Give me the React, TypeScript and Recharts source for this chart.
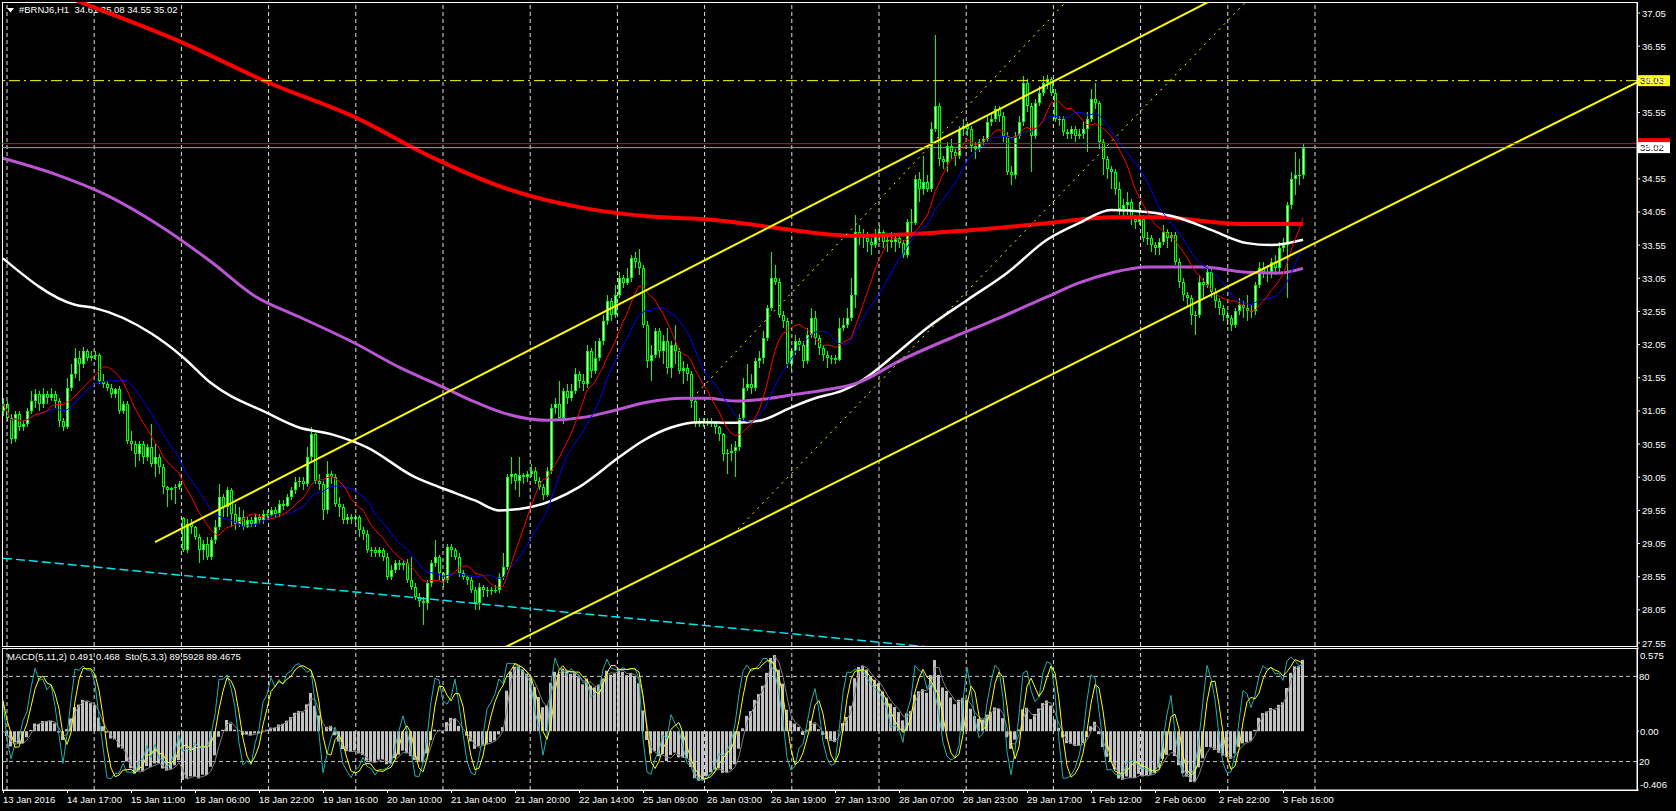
import React from "react";
import { ComposedChart, Bar, Line, XAxis, YAxis, ReferenceLine } from "recharts";

// #BRNJ6 H1 bars (bar index 0 = 13 Jan 2016)
const opens = [
  31.05, 31.15, 30.95, 30.62, 31.0, 30.8, 30.85, 31.05, 31.2, 31.3,
  31.15, 31.3, 31.25, 31.3, 31.2, 30.9, 30.8, 31.4, 31.6, 31.85,
  31.75, 31.95, 31.85, 31.88, 31.9, 31.5, 31.45, 31.4, 31.3, 31.38,
  31.05, 31.15, 30.6, 30.55, 30.4, 30.55, 30.35, 30.5, 30.25, 30.35,
  30.2, 29.9, 29.85, 29.88, 29.9, 29.43, 28.95, 29.35, 29.3, 29.15,
  28.95, 29.05, 28.85, 29.1, 29.3, 29.75, 29.6, 29.85, 29.5, 29.35,
  29.45, 29.3, 29.4, 29.35, 29.45, 29.4, 29.5, 29.48, 29.55, 29.5,
  29.65, 29.62, 29.75, 29.85, 29.98, 30.0, 29.95, 30.35, 30.7, 30.0,
  29.95, 29.55, 30.1, 30.05, 29.65, 29.6, 29.4, 29.45, 29.42, 29.45,
  29.25, 29.2, 28.95, 28.95, 28.9, 28.95, 28.85, 28.55, 28.65, 28.75,
  28.72, 28.75, 28.5, 28.4, 28.25, 28.18, 28.15, 28.45, 28.75, 28.85,
  28.6, 28.5, 29.0, 28.95, 28.85, 28.6, 28.55, 28.5, 28.35, 28.15,
  28.4, 28.35, 28.33, 28.35, 28.35, 28.55, 28.7, 30.05, 30.1, 30.0,
  30.08, 30.05, 30.1, 30.15, 30.0, 29.9, 29.78, 30.15, 31.1, 31.15,
  30.95, 31.35, 31.25, 31.35, 31.6, 31.5, 31.45, 31.95, 31.65, 31.85,
  32.1, 32.4, 32.7, 32.5, 32.8, 33.05, 32.98, 33.05, 33.35, 33.3,
  33.2, 32.35, 31.8, 31.9, 32.25, 31.95, 32.1, 31.7, 32.05, 31.95,
  31.65, 31.7, 31.6, 31.2, 30.85, 30.9, 30.88, 30.9, 30.87, 30.8,
  30.7, 30.4, 30.42, 30.45, 30.5, 30.95, 31.4, 31.45, 31.4, 31.8,
  31.85, 32.15, 32.6, 33.05, 33.0, 32.5, 32.4, 31.75, 31.95, 32.1,
  32.05, 31.8, 32.2, 32.45, 32.15, 32.0, 31.9, 31.85, 31.85, 31.82,
  32.3, 32.35, 32.45, 32.8, 33.75, 33.7, 33.65, 33.6, 33.55, 33.7,
  33.75, 33.6, 33.62, 33.6, 33.65, 33.58, 33.4, 33.9, 33.88, 34.55,
  34.4, 34.5, 34.4, 35.3, 35.65, 34.85, 34.8, 35.05, 34.95, 34.9,
  35.3, 35.35, 35.3, 35.05, 35.0, 35.1, 35.15, 35.4, 35.45, 35.6,
  35.5, 35.2, 34.65, 34.6, 35.2, 35.4, 36.0, 35.65, 35.2, 35.7,
  35.85, 36.0, 36.05, 35.85, 35.45, 35.45, 35.25, 35.22, 35.3, 35.2,
  35.22, 35.3, 35.45, 35.75, 35.7, 35.1, 34.85, 34.7, 34.65, 34.4,
  34.1, 34.15, 34.2, 33.95, 33.9, 33.95, 33.65, 33.65, 33.55, 33.5,
  33.6, 33.75, 33.65, 33.7, 33.3, 33.0, 32.8, 32.75, 32.5, 32.5,
  33.0, 32.95, 33.15, 32.85, 32.7, 32.6, 32.5, 32.45, 32.35, 32.55,
  32.65, 32.6, 32.55, 32.55, 32.95, 33.2, 33.15, 33.15, 33.3, 33.2,
  33.5, 33.55, 34.15, 34.55, 34.6, 34.61,
];
const highs = [
  31.25, 31.2, 31.0, 31.05, 31.05, 30.92, 31.1, 31.35, 31.38, 31.35,
  31.4, 31.35, 31.4, 31.35, 31.25, 30.95, 31.55, 31.75, 32.0, 31.95,
  32.02, 31.98, 31.95, 31.95, 31.92, 31.6, 31.5, 31.45, 31.4, 31.42,
  31.2, 31.2, 30.75, 30.6, 30.6, 30.6, 30.55, 30.85, 30.55, 30.4,
  30.25, 29.92, 29.9, 29.95, 30.0, 29.45, 29.42, 29.42, 29.32, 29.2,
  29.1, 29.15, 29.15, 29.4, 29.95, 29.8, 29.9, 29.88, 29.65, 29.6,
  29.55, 29.45, 29.45, 29.5, 29.5, 29.55, 29.55, 29.6, 29.6, 29.7,
  29.7, 29.8, 29.9, 30.05, 30.05, 30.05, 30.5, 30.8, 30.72, 30.1,
  30.0, 30.3, 30.15, 30.1, 29.75, 29.65, 29.5, 29.5, 29.5, 29.48,
  29.3, 29.25, 29.0, 29.0, 29.0, 28.98, 28.9, 28.72, 28.8, 28.8,
  28.8, 28.82, 28.85, 28.45, 28.3, 28.25, 28.5, 28.8, 29.1, 28.88,
  28.62, 29.05, 29.05, 28.98, 28.9, 28.65, 28.58, 28.55, 28.4, 28.45,
  28.42, 28.4, 28.4, 28.42, 28.6, 28.9, 30.1, 30.35, 30.12, 30.35,
  30.12, 30.15, 30.25, 30.2, 30.05, 29.95, 30.2, 31.15, 31.25, 31.5,
  31.4, 31.45, 31.45, 31.7, 31.65, 31.6, 32.05, 32.0, 32.1, 32.15,
  32.5, 32.8, 32.75, 32.95, 33.15, 33.1, 33.2, 33.4, 33.45, 33.49,
  33.25, 32.4, 32.05, 32.3, 32.3, 32.2, 32.3, 32.1, 32.35, 32.0,
  31.8, 31.75, 31.65, 31.25, 30.95, 30.95, 30.95, 30.95, 30.9, 30.82,
  30.72, 30.48, 30.55, 30.6, 31.0, 31.55, 31.75, 31.6, 31.85, 31.95,
  32.25, 32.65, 33.45, 33.25, 33.05, 32.55, 32.45, 32.0, 32.2, 32.15,
  32.1, 32.3, 32.6, 32.55, 32.2, 32.05, 31.95, 31.9, 31.9, 32.45,
  32.45, 32.6, 33.05, 34.0, 33.85, 33.8, 33.75, 33.65, 33.8, 33.85,
  33.78, 33.7, 33.75, 33.7, 33.7, 33.62, 33.95, 34.1, 34.6, 34.65,
  34.9, 34.6, 35.4, 36.72, 35.7, 34.9, 35.1, 35.15, 35.0, 35.35,
  35.45, 35.4, 35.35, 35.1, 35.15, 35.2, 35.5, 35.55, 35.65, 35.65,
  35.55, 35.25, 34.75, 35.25, 35.5, 36.1, 36.05, 35.7, 35.75, 35.95,
  36.1, 36.12, 36.08, 35.9, 35.5, 35.5, 35.3, 35.35, 35.35, 35.3,
  35.4, 35.55, 35.9, 36.0, 35.72, 35.15, 34.9, 34.75, 34.7, 34.5,
  34.25, 34.35, 34.25, 34.0, 34.2, 34.0, 33.75, 33.7, 33.6, 33.65,
  33.85, 33.8, 33.75, 33.75, 33.35, 33.05, 32.85, 32.8, 32.55, 33.1,
  33.05, 33.25, 33.2, 32.9, 32.75, 32.65, 32.55, 32.5, 32.6, 32.75,
  32.7, 32.8, 32.65, 33.0, 33.3, 33.3, 33.25, 33.35, 33.4, 33.6,
  33.65, 34.2, 34.65, 34.95, 34.85, 35.08,
];
const lows = [
  30.98, 30.9, 30.55, 30.58, 30.75, 30.75, 30.8, 31.0, 31.1, 31.05,
  31.1, 31.15, 31.2, 31.1, 30.8, 30.75, 30.78, 31.35, 31.55, 31.5,
  31.7, 31.8, 31.8, 31.82, 31.45, 31.4, 31.35, 31.25, 31.25, 31.0,
  31.0, 30.55, 30.45, 30.2, 30.3, 30.25, 30.3, 30.2, 30.05, 30.1,
  29.8, 29.6, 29.7, 29.65, 29.85, 28.92, 28.9, 29.2, 29.1, 28.75,
  28.8, 28.8, 28.8, 29.05, 29.25, 29.45, 29.45, 29.3, 29.25, 29.3,
  29.25, 29.28, 29.3, 29.3, 29.35, 29.35, 29.4, 29.45, 29.45, 29.45,
  29.55, 29.6, 29.7, 29.8, 29.9, 29.85, 29.9, 30.3, 29.95, 29.85,
  29.4, 29.5, 29.95, 29.6, 29.45, 29.35, 29.35, 29.35, 29.35, 29.15,
  29.1, 28.9, 28.85, 28.85, 28.85, 28.78, 28.5, 28.5, 28.6, 28.65,
  28.65, 28.45, 28.35, 28.2, 28.1, 27.82, 28.05, 28.4, 28.7, 28.5,
  28.4, 28.45, 28.85, 28.8, 28.55, 28.5, 28.42, 28.3, 28.05, 28.05,
  28.25, 28.25, 28.28, 28.3, 28.3, 28.5, 28.65, 29.95, 29.85, 29.75,
  29.95, 29.98, 30.05, 29.95, 29.85, 29.7, 29.75, 30.1, 31.0, 30.9,
  30.85, 31.15, 31.2, 31.3, 31.4, 31.35, 31.4, 31.55, 31.6, 31.8,
  32.05, 32.35, 32.4, 32.45, 32.75, 32.9, 32.95, 33.0, 33.2, 33.1,
  32.3, 31.7, 31.5, 31.85, 31.85, 31.75, 31.6, 31.55, 31.75, 31.6,
  31.45, 31.5, 31.1, 30.8, 30.8, 30.8, 30.82, 30.8, 30.7, 30.6,
  30.3, 30.1, 30.3, 30.05, 30.45, 30.9, 31.35, 31.3, 31.35, 31.7,
  31.75, 32.1, 32.55, 32.95, 32.45, 32.3, 31.7, 31.65, 31.9, 31.95,
  31.7, 31.75, 32.15, 32.05, 31.9, 31.8, 31.7, 31.75, 31.75, 31.8,
  32.25, 32.3, 32.4, 32.6, 33.55, 33.5, 33.45, 33.4, 33.5, 33.6,
  33.5, 33.45, 33.5, 33.45, 33.5, 33.35, 33.35, 33.75, 33.85, 34.2,
  34.3, 34.35, 34.35, 35.25, 34.75, 34.7, 34.65, 34.85, 34.75, 34.85,
  35.2, 35.2, 34.95, 34.85, 34.95, 35.05, 35.1, 35.35, 35.4, 35.4,
  35.1, 34.6, 34.45, 34.55, 35.15, 35.35, 35.55, 34.65, 35.15, 35.65,
  35.8, 35.9, 35.8, 35.4, 35.35, 35.2, 35.15, 35.15, 35.1, 35.15,
  35.15, 34.95, 35.4, 35.6, 35.0, 34.6, 34.55, 34.4, 34.3, 34.0,
  33.95, 34.0, 33.85, 33.8, 33.85, 33.6, 33.55, 33.45, 33.4, 33.4,
  33.55, 33.5, 33.6, 33.25, 32.9, 32.7, 32.6, 32.35, 32.2, 32.45,
  32.75, 32.9, 32.75, 32.6, 32.5, 32.4, 32.35, 32.25, 32.3, 32.5,
  32.45, 32.4, 32.45, 32.5, 32.9, 33.05, 33.0, 33.05, 33.1, 33.15,
  33.45, 32.75, 34.1, 34.3, 34.45, 34.55,
];
const closes = [
  31.15, 30.95, 30.62, 31.0, 30.8, 30.85, 31.05, 31.2, 31.3, 31.15,
  31.3, 31.25, 31.3, 31.2, 30.9, 30.8, 31.4, 31.6, 31.85, 31.75,
  31.95, 31.85, 31.88, 31.9, 31.5, 31.45, 31.4, 31.3, 31.38, 31.05,
  31.15, 30.6, 30.55, 30.4, 30.55, 30.35, 30.5, 30.25, 30.35, 30.2,
  29.9, 29.85, 29.88, 29.9, 29.95, 28.95, 29.35, 29.3, 29.15, 28.95,
  29.05, 28.85, 29.1, 29.3, 29.75, 29.6, 29.85, 29.5, 29.35, 29.45,
  29.3, 29.4, 29.35, 29.45, 29.4, 29.5, 29.48, 29.55, 29.5, 29.65,
  29.62, 29.75, 29.85, 29.98, 30.0, 29.95, 30.35, 30.7, 30.0, 29.95,
  29.55, 30.1, 30.05, 29.65, 29.6, 29.4, 29.45, 29.42, 29.45, 29.25,
  29.2, 28.95, 28.95, 28.9, 28.95, 28.85, 28.55, 28.65, 28.75, 28.72,
  28.75, 28.5, 28.4, 28.25, 28.18, 28.15, 28.45, 28.75, 28.85, 28.6,
  28.5, 29.0, 28.95, 28.85, 28.6, 28.55, 28.5, 28.35, 28.15, 28.4,
  28.35, 28.33, 28.35, 28.35, 28.55, 28.7, 30.05, 30.1, 30.0, 30.08,
  30.05, 30.1, 30.15, 30.0, 29.9, 29.78, 30.15, 31.1, 31.15, 30.95,
  31.35, 31.25, 31.35, 31.6, 31.5, 31.45, 31.95, 31.65, 31.85, 32.1,
  32.4, 32.7, 32.5, 32.8, 33.05, 32.98, 33.05, 33.35, 33.3, 33.2,
  32.35, 31.8, 31.9, 32.25, 31.95, 32.1, 31.7, 32.05, 31.95, 31.65,
  31.7, 31.6, 31.2, 30.85, 30.9, 30.88, 30.9, 30.87, 30.8, 30.7,
  30.4, 30.42, 30.45, 30.5, 30.95, 31.4, 31.45, 31.4, 31.8, 31.85,
  32.15, 32.6, 33.05, 33.0, 32.5, 32.4, 31.75, 31.95, 32.1, 32.05,
  31.8, 32.2, 32.45, 32.15, 32.0, 31.9, 31.85, 31.85, 31.82, 32.3,
  32.35, 32.45, 32.8, 33.75, 33.7, 33.65, 33.6, 33.55, 33.7, 33.75,
  33.6, 33.62, 33.6, 33.65, 33.58, 33.4, 33.9, 33.88, 34.55, 34.4,
  34.5, 34.4, 35.3, 35.65, 34.85, 34.8, 35.05, 34.95, 34.9, 35.3,
  35.35, 35.3, 35.05, 35.0, 35.1, 35.15, 35.4, 35.45, 35.6, 35.5,
  35.2, 34.65, 34.6, 35.2, 35.4, 36.0, 35.65, 35.2, 35.7, 35.85,
  36.0, 36.05, 35.85, 35.45, 35.45, 35.25, 35.22, 35.3, 35.2, 35.22,
  35.3, 35.45, 35.75, 35.7, 35.1, 34.85, 34.7, 34.65, 34.4, 34.1,
  34.15, 34.2, 33.95, 33.9, 33.95, 33.65, 33.65, 33.55, 33.5, 33.6,
  33.75, 33.65, 33.7, 33.3, 33.0, 32.8, 32.75, 32.5, 32.5, 33.0,
  32.95, 33.15, 32.85, 32.7, 32.6, 32.5, 32.45, 32.35, 32.55, 32.65,
  32.6, 32.55, 32.55, 32.95, 33.2, 33.15, 33.15, 33.3, 33.2, 33.5,
  33.55, 34.15, 34.55, 34.6, 34.61, 35.02,
];

// long moving averages as [bar, price]
const maWhite = [
  [0, 33.35], [18, 32.65], [23, 32.6], [37, 32.22], [45, 31.86], [52, 31.47], [66, 31.02],
  [74, 30.8], [82, 30.7], [91, 30.5], [103, 30.05], [110, 29.88], [118, 29.7], [124, 29.55],
  [132, 29.6], [144, 29.9], [154, 30.35], [160, 30.6], [167, 30.8], [174, 30.88], [183, 30.87],
  [189, 30.9], [197, 31.1], [203, 31.24], [210, 31.36], [214, 31.48], [224, 31.95], [231, 32.3],
  [241, 32.72], [251, 33.13], [261, 33.63], [269, 33.88], [277, 34.08], [286, 34.05],
  [294, 33.96], [302, 33.78], [311, 33.58], [317, 33.55], [325, 33.63],
];
const maPurple = [
  [0, 34.86], [13, 34.62], [26, 34.3], [39, 33.85], [52, 33.3], [63, 32.78], [74, 32.47],
  [88, 32.07], [99, 31.71], [110, 31.41], [117, 31.21], [125, 31.02], [136, 30.91], [146, 30.96],
  [153, 31.06], [161, 31.18], [170, 31.24], [176, 31.24], [183, 31.2], [189, 31.22], [197, 31.29],
  [205, 31.36], [214, 31.48], [224, 31.8], [239, 32.2], [249, 32.45], [261, 32.77], [269, 32.98],
  [277, 33.13], [286, 33.22], [300, 33.22], [311, 33.14], [319, 33.13], [325, 33.2],
];
const maRedSlow = [
  [0, 37.7], [18, 37.25], [45, 36.6], [66, 36.01], [89, 35.45], [106, 34.91], [125, 34.42],
  [146, 34.1], [162, 33.98], [178, 33.93], [192, 33.82], [213, 33.69], [231, 33.73], [247, 33.8],
  [264, 33.9], [277, 33.97], [290, 33.97], [302, 33.9], [311, 33.87], [325, 33.87],
];

// drawn objects: {bar, price} end points
const upperChannel = [{ x: 38, y: 29.07 }, { x: 305, y: 37.33 }];
const lowerChannel = [{ x: 124, y: 27.44 }, { x: 409, y: 36.02 }];
const dotLineA = [{ x: 173.5, y: 31.32 }, { x: 267, y: 37.3 }];
const dotLineB = [{ x: 183.75, y: 29.27 }, { x: 312, y: 37.3 }];
const cyanLine = [{ x: 0, y: 28.83 }, { x: 235, y: 27.47 }];
const levelPrice = 36.03;
const askPrice = 35.08;
const bidPrice = 35.02;

const priceTicks = [37.05, 36.55, 36.05, 35.55, 35.05, 34.55, 34.05, 33.55, 33.05, 32.55,
  32.05, 31.55, 31.05, 30.55, 30.05, 29.55, 29.05, 28.55, 28.05, 27.55];
const macdTicks = [0.575, 0, -0.406];
const timeLabels = ["13 Jan 2016", "14 Jan 17:00", "15 Jan 11:00", "18 Jan 06:00", "18 Jan 22:00",
  "19 Jan 16:00", "20 Jan 10:00", "21 Jan 04:00", "21 Jan 20:00", "22 Jan 14:00", "25 Jan 09:00",
  "26 Jan 03:00", "26 Jan 19:00", "27 Jan 13:00", "28 Jan 07:00", "28 Jan 23:00", "29 Jan 17:00",
  "1 Feb 12:00", "2 Feb 06:00", "2 Feb 22:00", "3 Feb 16:00"];

const FONT = "'Liberation Sans', Arial, sans-serif";
const W = 1676;
const AXIS_W = 39;
const X_DOMAIN: [number, number] = [-0.25, 408.5];
const BARS_PER_LABEL = 16;
const tickBars = timeLabels.map((_, k) => k * BARS_PER_LABEL);
const gridBars = Array.from({ length: 16 }, (_, k) => 1 + k * 21.8);

function sma(src: number[], n: number) {
  return src.map((_, i) => {
    const from = Math.max(0, i - n + 1);
    let s = 0;
    for (let j = from; j <= i; j++) s += src[j];
    return s / (i - from + 1);
  });
}
function ema(src: number[], n: number) {
  const a = 2 / (n + 1);
  const out: number[] = [];
  src.forEach((v, i) => out.push(i === 0 ? v : a * v + (1 - a) * out[i - 1]));
  return out;
}

// indicators as MT4 computes them
const fastMa = sma(closes, 10);
const slowMa = sma(closes, 16);
const ema5 = ema(closes, 5);
const ema11 = ema(closes, 11);
const macdMain = closes.map((_, i) => ema5[i] - ema11[i]);
const macdSignal = sma(macdMain, 2);
const stoMain = closes.map((_, i) => {
  let num = 0;
  let den = 0;
  for (let k = 0; k < 3; k++) {
    const j = i - k;
    if (j < 0) break;
    const from = Math.max(0, j - 4);
    const hh = Math.max(...highs.slice(from, j + 1));
    const ll = Math.min(...lows.slice(from, j + 1));
    num += closes[j] - ll;
    den += hh - ll;
  }
  return den > 0 ? (100 * num) / den : 50;
});
const stoSignal = sma(stoMain, 3);

const candles = closes.map((c, i) => ({
  i, o: opens[i], h: highs[i], l: lows[i], c,
  range: [lows[i], highs[i]], fast: fastMa[i], slow: slowMa[i],
}));
const osc = closes.map((_, i) => ({ i, macd: macdMain[i], sig: macdSignal[i], k: stoMain[i], d: stoSignal[i] }));
const toPts = (arr: number[][]) => arr.map(([i, v]) => ({ i, v }));

const Candle = (props: any) => {
  const { x, y, width, height, payload } = props;
  if (x == null || !payload) return null;
  const { o, h, l, c } = payload;
  const top = Math.min(y, y + height);
  const span = Math.abs(height);
  const cx = Math.round(x + width / 2);
  const py = (v: number) => top + ((h - v) / (h - l || 1)) * span;
  const bTop = Math.round(py(Math.max(o, c)));
  const bBot = Math.round(py(Math.min(o, c)));
  const bh = Math.max(1, bBot - bTop);
  return (
    <g shapeRendering="crispEdges">
      <line x1={cx + 0.5} x2={cx + 0.5} y1={top} y2={top + span} stroke="#00ff00" />
      <rect x={cx - 1} y={bTop} width={3} height={bh} fill="#00ff00" />
      {bh > 2 && <rect x={cx} y={bTop + 1} width={1} height={bh - 2} fill={c >= o ? "#ffffff" : "#000000"} />}
    </g>
  );
};

const PriceTick = (props: any) => {
  const { x, y, payload } = props;
  return (
    <text x={x} y={y} dy={3.5} textAnchor="start" fill="#ffffff" fontSize={9.5} fontFamily={FONT}>
      {Number(payload.value).toFixed(2)}
    </text>
  );
};

const MacdTick = (props: any) => {
  const { x, y, payload } = props;
  const v = Number(payload.value);
  const txt = v === 0 ? "0.00" : v.toFixed(3);
  const dy = v > 0.5 ? 11 : v < -0.3 ? -2.5 : 3.5;
  return (
    <text x={x} y={y} dy={dy} textAnchor="start" fill="#ffffff" fontSize={9.5} fontFamily={FONT}>
      {txt}
    </text>
  );
};

const TimeTick = (props: any) => {
  const { x, y, payload } = props;
  const label = timeLabels[Math.round(payload.value / BARS_PER_LABEL)];
  return (
    <g>
      <line x1={x + 0.5} x2={x + 0.5} y1={y} y2={y + 3} stroke="#ffffff" />
      <text x={x} y={y + 13} textAnchor="start" fill="#ffffff" fontSize={9.5} fontFamily={FONT}>
        {label}
      </text>
    </g>
  );
};

// price tag on the right scale; the ask tag sits under the bid tag, so it carries no text
const PriceTag = (props: any) => {
  const { viewBox, bg, color, text } = props;
  if (!viewBox) return null;
  const x = viewBox.x + viewBox.width + 1;
  const y = viewBox.y;
  return (
    <g>
      <rect x={x} y={y - 5.5} width={32} height={11} fill={bg} />
      {text && <text x={x + 2} y={y + 3.5} fill={color} fontSize={9.5} fontFamily={FONT}>{text}</text>}
    </g>
  );
};

const lineProps = { dot: false, activeDot: false, isAnimationActive: false, legendType: "none" as const };

export default function App() {
  return (
    <div style={{ position: "absolute", left: 0, top: 0, width: W, height: 811, background: "#000", overflow: "hidden" }}>
      <div style={{ position: "absolute", left: 2, top: 2, width: 1636, height: 645, border: "1px solid #fff", boxSizing: "border-box" }} />
      <div style={{ position: "absolute", left: 2, top: 648, width: 1636, height: 143, border: "1px solid #fff", boxSizing: "border-box" }} />
      <div style={{ position: "absolute", left: 7, top: 4, color: "#fff", fontFamily: FONT, fontSize: 9.5, whiteSpace: "pre", lineHeight: "12px" }}>
        <svg width="7" height="5" style={{ marginRight: 5, verticalAlign: "middle" }}>
          <polygon points="0,0 7,0 3.5,4.5" fill="#fff" />
        </svg>
        {"#BRNJ6,H1  34.61 35.08 34.55 35.02"}
      </div>
      <div style={{ position: "absolute", left: 7, top: 651, color: "#fff", fontFamily: FONT, fontSize: 9.5, whiteSpace: "pre", lineHeight: "12px" }}>
        {"MACD(5,11,2) 0.491 0.468  Sto(5,3,3) 89.5928 89.4675"}
      </div>

      <div style={{ position: "absolute", left: 0, top: 0 }}>
        <ComposedChart width={W} height={653} data={candles} margin={{ top: 2, right: 0, bottom: 7, left: 2 }}>
          <XAxis dataKey="i" type="number" domain={X_DOMAIN} allowDataOverflow hide />
          <YAxis orientation="right" width={AXIS_W} domain={[27.505, 37.216]} allowDataOverflow
            ticks={priceTicks} interval={0} tick={<PriceTick />} tickSize={3} tickMargin={2}
            axisLine={{ stroke: "#fff" }} tickLine={{ stroke: "#fff" }} />
          {gridBars.map((g) => (
            <ReferenceLine key={g} x={g} stroke="#e0e0e0" strokeDasharray="4 3" />
          ))}
          <Bar dataKey="range" barSize={3} shape={<Candle />} isAnimationActive={false} legendType="none" />
          <Line data={toPts(maRedSlow)} dataKey="v" type="monotone" stroke="#ff0000" strokeWidth={4} {...lineProps} />
          <Line data={toPts(maWhite)} dataKey="v" type="monotone" stroke="#ffffff" strokeWidth={2.5} {...lineProps} />
          <Line data={toPts(maPurple)} dataKey="v" type="monotone" stroke="#ba55d3" strokeWidth={3} {...lineProps} />
          <Line dataKey="slow" type="linear" stroke="#0000ff" strokeWidth={1} {...lineProps} />
          <Line dataKey="fast" type="linear" stroke="#ff0000" strokeWidth={1} {...lineProps} />
          <ReferenceLine segment={cyanLine} ifOverflow="hidden" stroke="#00e5ee" strokeWidth={1.5} strokeDasharray="9 4" />
          <ReferenceLine segment={upperChannel} ifOverflow="hidden" stroke="#ffff00" strokeWidth={2} />
          <ReferenceLine segment={lowerChannel} ifOverflow="hidden" stroke="#ffff00" strokeWidth={2} />
          <ReferenceLine segment={dotLineA} ifOverflow="hidden" stroke="#ffff00" strokeWidth={1} strokeDasharray="2 5" />
          <ReferenceLine segment={dotLineB} ifOverflow="hidden" stroke="#ffff00" strokeWidth={1} strokeDasharray="2 5" />
          <ReferenceLine y={levelPrice} stroke="#ffff00" strokeDasharray="11 4 2 4"
            label={<PriceTag bg="#ffff00" color="#000" text={levelPrice.toFixed(2)} />} />
          <ReferenceLine y={askPrice} stroke="#ff0000"
            label={<PriceTag bg="#ff0000" color="#fff" text="" />} />
          <ReferenceLine y={bidPrice} stroke="#a0a0a0"
            label={<PriceTag bg="#ffffff" color="#000" text={bidPrice.toFixed(2)} />} />
        </ComposedChart>
      </div>

      <div style={{ position: "absolute", left: 0, top: 646 }}>
        <ComposedChart width={W} height={165} data={osc} margin={{ top: 2, right: 0, bottom: 0, left: 2 }}>
          <XAxis dataKey="i" type="number" domain={X_DOMAIN} allowDataOverflow ticks={tickBars} interval={0}
            tick={<TimeTick />} tickSize={0} tickMargin={0} height={21} axisLine={{ stroke: "#fff" }} tickLine={false} />
          <YAxis yAxisId="macd" orientation="right" width={AXIS_W} domain={[-0.406, 0.575]} allowDataOverflow
            ticks={macdTicks} interval={0} tick={<MacdTick />} tickSize={2} tickMargin={1}
            axisLine={{ stroke: "#fff" }} tickLine={{ stroke: "#fff" }} />
          <YAxis yAxisId="sto" hide domain={[0, 100]} allowDataOverflow />
          {gridBars.map((g) => (
            <ReferenceLine key={g} yAxisId="macd" x={g} stroke="#e0e0e0" strokeDasharray="4 3" />
          ))}
          <ReferenceLine yAxisId="sto" y={80} stroke="#c8c8c8" strokeDasharray="4 3"
            label={{ value: "80", position: "right", offset: 2, fill: "#fff", fontSize: 9.5, fontFamily: FONT }} />
          <ReferenceLine yAxisId="sto" y={20} stroke="#c8c8c8" strokeDasharray="4 3"
            label={{ value: "20", position: "right", offset: 2, fill: "#fff", fontSize: 9.5, fontFamily: FONT }} />
          <Bar yAxisId="macd" dataKey="macd" barSize={3} fill="#c0c0c0" isAnimationActive={false} legendType="none" />
          <Line yAxisId="macd" dataKey="sig" type="linear" stroke="#808080" strokeWidth={1} {...lineProps} />
          <Line yAxisId="sto" dataKey="k" type="linear" stroke="#20b2aa" strokeWidth={1} {...lineProps} />
          <Line yAxisId="sto" dataKey="d" type="linear" stroke="#ffff00" strokeWidth={1} {...lineProps} />
        </ComposedChart>
      </div>
    </div>
  );
}
